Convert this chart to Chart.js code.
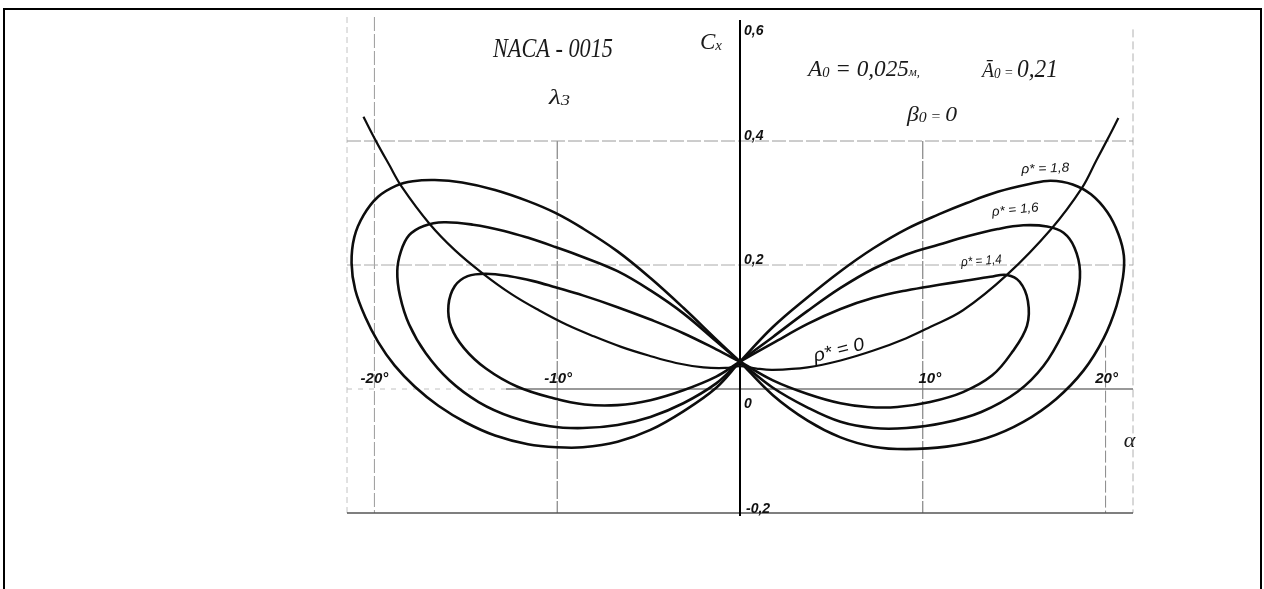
<!DOCTYPE html>
<html>
<head>
<meta charset="utf-8">
<script src="https://cdn.jsdelivr.net/npm/chart.js@4.4.1/dist/chart.umd.min.js"></script>
<style>
  html, body { margin: 0; padding: 0; background: #fff; }
  #frame { position: absolute; left: 3px; top: 8px; right: 2px; height: 600px; border: 2px solid #000; border-bottom: none; }
  #wrap { position: absolute; left: 0; top: 0; width: 1264px; height: 589px; }
</style>
</head>
<body>
<div id="frame"></div>
<div id="wrap"><canvas id="chart" width="1264" height="589"></canvas></div>
<script>
// оси: угол атаки α (град) и Cx
const alphaTicks = [-20, -10, 10, 20];
const alphaTickLabels = ['-20°', '-10°', '10°', '20°'];
const cxTicks = [0.6, 0.4, 0.2, 0, -0.2];
const cxTickLabels = ['0,6', '0,4', '0,2', '0', '-0,2'];

const rhoNames = ['ρ* = 1,8', 'ρ* = 1,6', 'ρ* = 1,4', 'ρ* = 0'];

// ρ* = 1,8 — замкнутая «восьмёрка»: центр, левая петля, центр, правая петля
const alpha18 = [0, -1.3, -3.1, -4.9, -6.7, -8.6, -10.1, -11.6, -13.4, -15.2, -16.7, -17.9, -18.8, -19.8, -20.6, -21.1, -21.25, -21.05, -20.5, -19.8, -18.9, -17.8, -16.5, -15.0, -13.4, -11.6, -10.0, -8.6, -6.7, -4.9, -3.1, -1.3,
  0, 1.8, 3.7, 5.5, 7.3, 9.1, 10.9, 12.4, 14.1, 15.9, 17.0, 18.2, 19.2, 20.1, 20.7, 21.0, 20.95, 20.6, 19.9, 18.8, 17.3, 15.5, 13.5, 11.3, 9.1, 7.3, 5.5, 3.7, 1.8, 0];
const cx18 = [0.044, 0.080, 0.131, 0.179, 0.222, 0.259, 0.284, 0.303, 0.321, 0.333, 0.337, 0.335, 0.328, 0.310, 0.280, 0.245, 0.203, 0.160, 0.116, 0.076, 0.038, 0.004, -0.027, -0.054, -0.075, -0.089, -0.094, -0.094, -0.085, -0.066, -0.036, 0.002,
  0.044, 0.100, 0.148, 0.190, 0.227, 0.258, 0.282, 0.300, 0.318, 0.331, 0.336, 0.330, 0.314, 0.285, 0.250, 0.215, 0.180, 0.134, 0.082, 0.030, -0.016, -0.053, -0.079, -0.093, -0.097, -0.093, -0.078, -0.051, -0.010, 0.044];

// ρ* = 1,6
const alpha16 = [0, -1.3, -3.1, -4.9, -6.7, -8.6, -10.1, -11.5, -12.9, -14.6, -16.2, -17.3, -18.1, -18.55, -18.75, -18.6, -18.1, -17.2, -15.9, -14.3, -12.5, -10.4, -8.6, -6.7, -4.9, -3.1, -1.3,
  0, 1.8, 3.7, 5.5, 7.3, 9.1, 10.9, 12.4, 14.1, 15.5, 16.8, 17.7, 18.3, 18.6, 18.4, 17.7, 16.6, 15.2, 13.2, 11.1, 9.1, 7.3, 5.5, 3.7, 1.8, 0];
const cx16 = [0.044, 0.077, 0.122, 0.159, 0.190, 0.213, 0.229, 0.243, 0.255, 0.265, 0.269, 0.263, 0.248, 0.222, 0.190, 0.150, 0.104, 0.058, 0.014, -0.021, -0.045, -0.060, -0.063, -0.058, -0.045, -0.023, 0.009,
  0.044, 0.084, 0.126, 0.163, 0.194, 0.217, 0.233, 0.246, 0.258, 0.264, 0.262, 0.252, 0.228, 0.190, 0.145, 0.092, 0.037, -0.004, -0.037, -0.055, -0.063, -0.063, -0.053, -0.030, 0.002, 0.044];

// ρ* = 1,4
const alpha14 = [0, -1.3, -3.1, -4.9, -6.7, -8.6, -10.1, -11.3, -12.6, -13.9, -14.9, -15.6, -15.95, -15.8, -15.1, -13.9, -12.2, -10.2, -8.5, -6.7, -4.9, -3.1, -1.3,
  0, 1.8, 3.7, 5.5, 7.3, 9.1, 10.9, 12.4, 13.7, 14.6, 15.3, 15.75, 15.7, 14.9, 13.8, 12.2, 10.4, 8.6, 7.0, 5.5, 3.7, 1.8, 0];
const cx14 = [0.044, 0.064, 0.090, 0.112, 0.132, 0.151, 0.164, 0.174, 0.182, 0.186, 0.182, 0.166, 0.135, 0.100, 0.066, 0.033, 0.004, -0.015, -0.025, -0.026, -0.018, -0.002, 0.020,
  0.044, 0.074, 0.105, 0.129, 0.147, 0.159, 0.168, 0.175, 0.181, 0.184, 0.173, 0.142, 0.102, 0.060, 0.022, -0.005, -0.021, -0.029, -0.029, -0.023, -0.008, 0.014, 0.044];

// ρ* = 0 — открытая кривая
const alpha0 = [-20.6, -19.9, -19.2, -18.5, -17.0, -15.6, -14.1, -12.5, -11.0, -9.5, -8.0, -6.5, -5.0, -3.5, -2.0, -0.8, 0, 0.9, 1.8, 3.7, 5.5, 7.3, 9.1, 10.4, 12.2, 14.6, 17.05, 18.7, 19.5, 20.2, 20.7];
const cx0 = [0.439, 0.399, 0.362, 0.326, 0.267, 0.224, 0.187, 0.153, 0.127, 0.104, 0.085, 0.068, 0.054, 0.042, 0.035, 0.034, 0.037, 0.033, 0.031, 0.035, 0.046, 0.062, 0.082, 0.100, 0.127, 0.184, 0.259, 0.324, 0.369, 0.408, 0.437];

const zip = (a, c) => a.map((v, i) => ({ x: v, y: c[i] }));
const line = (pts, w) => ({ data: pts, showLine: true, borderColor: '#0d0d0d', borderWidth: w, pointRadius: 0, tension: 0.38, fill: false });

const serif = "'Liberation Serif', 'Times New Roman', serif";
const hand = "'Liberation Sans', Arial, sans-serif";

// текст из нескольких кусков (индексы, разные кегли), сжатый по ширине
function runs(ctx, x, y, parts, width, rot) {
  ctx.save();
  let total = 0;
  parts.forEach(p => { ctx.font = p[1]; total += ctx.measureText(p[0]).width; });
  ctx.translate(x, y);
  if (rot) ctx.rotate(rot * Math.PI / 180);
  if (width) ctx.scale(width / total, 1);
  let cur = 0;
  parts.forEach(p => { ctx.font = p[1]; ctx.fillText(p[0], cur, p[2] || 0); cur += ctx.measureText(p[0]).width; });
  ctx.restore();
}

const paperGrid = {
  id: 'paperGrid',
  beforeDatasetsDraw(chart) {
    const { ctx, scales: { x, y } } = chart;
    const X = v => x.getPixelForValue(v), Y = v => y.getPixelForValue(v);
    const rule = (a1, c1, a2, c2, color, w, dash) => {
      ctx.save();
      ctx.strokeStyle = color; ctx.lineWidth = w; ctx.setLineDash(dash || []);
      ctx.beginPath(); ctx.moveTo(X(a1), Y(c1)); ctx.lineTo(X(a2), Y(c2)); ctx.stroke();
      ctx.restore();
    };
    // рамка поля
    rule(x.min, 0.6, x.min, -0.2, '#c4c4c4', 1, [6, 4]);
    rule(x.max, 0.58, x.max, -0.2, '#b0b0b0', 1, [8, 4]);
    // вертикали сетки
    rule(-20, 0.6, -20, -0.2, '#9a9a9a', 1, [14, 3]);
    rule(-10, 0.4, -10, -0.2, '#6a6a6a', 1, [18, 2]);
    rule(10, 0.4, 10, -0.2, '#6a6a6a', 1, [18, 2]);
    rule(20, 0.07, 20, -0.2, '#888', 1, [12, 3]);
    // горизонтали
    rule(x.min, 0.4, x.max, 0.4, '#9a9a9a', 1, [14, 3]);
    rule(x.min, 0.2, x.max, 0.2, '#aaa', 1, [14, 3]);
    rule(x.min, 0, -12.8, 0, '#c0c0c0', 1, [5, 6]);
    rule(-12.8, 0, x.max, 0, '#777', 1.5);
    rule(x.min, -0.2, x.max, -0.2, '#555', 1.5);
    // ось Cx
    rule(0, 0.595, 0, -0.205, '#000', 2);
  },
  afterDatasetsDraw(chart) {
    const { ctx, scales: { x, y } } = chart;
    const X = v => x.getPixelForValue(v), Y = v => y.getPixelForValue(v);
    ctx.save();
    ctx.fillStyle = '#111';
    ctx.textBaseline = 'alphabetic';

    // подписи Cx у оси
    const cxDy = [18, -1, -1, 19, 0];
    ctx.font = 'italic bold 14px ' + hand;
    ctx.textAlign = 'left';
    cxTicks.forEach((v, i) => ctx.fillText(cxTickLabels[i], X(0) + (i === 4 ? 6 : 4), Y(v) + cxDy[i]));

    // подписи α над осью
    const aDx = [0, 1, 7, 1];
    ctx.font = 'italic bold 15px ' + hand;
    ctx.textAlign = 'center';
    alphaTicks.forEach((v, i) => ctx.fillText(alphaTickLabels[i], X(v) + aDx[i], Y(0) - 6));
    ctx.textAlign = 'left';

    // заголовок и параметры
    ctx.fillStyle = '#1a1a1a';
    runs(ctx, 493, 57, [['NACA - 0015', 'italic 27px ' + serif]], 120);
    runs(ctx, 549, 104, [['λ', 'italic 22px ' + serif], ['3', 'italic 15px ' + serif, 1]], 21);
    runs(ctx, 700, 49, [['C', 'italic 23px ' + serif], ['x', 'italic 15px ' + serif, 1]], 22);
    runs(ctx, 808, 76, [['A', 'italic 24px ' + serif], ['0', 'italic 15px ' + serif, 1], [' = 0,025', 'italic 24px ' + serif], ['м,', 'italic 13px ' + serif]], 112);
    runs(ctx, 982, 77, [['Ā', 'italic 21px ' + serif], ['0', 'italic 14px ' + serif, 1], [' = ', 'italic 15px ' + serif], ['0,21', 'italic 25px ' + serif]], 76);
    runs(ctx, 907, 121, [['β', 'italic 21px ' + serif], ['0', 'italic 14px ' + serif, 1], [' = ', 'italic 14px ' + serif], ['0', 'italic 21px ' + serif]], 50);
    runs(ctx, X(21.0), 447, [['α', 'italic 22px ' + serif]]);

    // подписи кривых
    ctx.fillStyle = '#111';
    runs(ctx, X(15.4), Y(0.348), [[rhoNames[0], 'italic 13px ' + hand]], 48, -2);
    runs(ctx, X(13.8), Y(0.279), [[rhoNames[1], 'italic 13px ' + hand]], 47, -6);
    runs(ctx, X(12.1), Y(0.198), [[rhoNames[2], 'italic 13px ' + hand]], 41, -4);
    runs(ctx, X(4.1), Y(0.044), [[rhoNames[3], 'italic 18px ' + hand]], 52, -14);
    ctx.restore();
  }
};

new Chart(document.getElementById('chart'), {
  type: 'scatter',
  data: {
    datasets: [
      line(zip(alpha18, cx18), 2.6),
      line(zip(alpha16, cx16), 2.6),
      line(zip(alpha14, cx14), 2.6),
      line(zip(alpha0, cx0), 2.2)
    ]
  },
  options: {
    responsive: false,
    animation: false,
    layout: { padding: { left: 347, right: 131, top: 17, bottom: 76 } },
    plugins: { legend: { display: false }, tooltip: { enabled: false } },
    scales: {
      x: { type: 'linear', min: -21.5, max: 21.5, display: false },
      y: { type: 'linear', min: -0.2, max: 0.6, display: false }
    }
  },
  plugins: [paperGrid]
});
</script>
</body>
</html>
